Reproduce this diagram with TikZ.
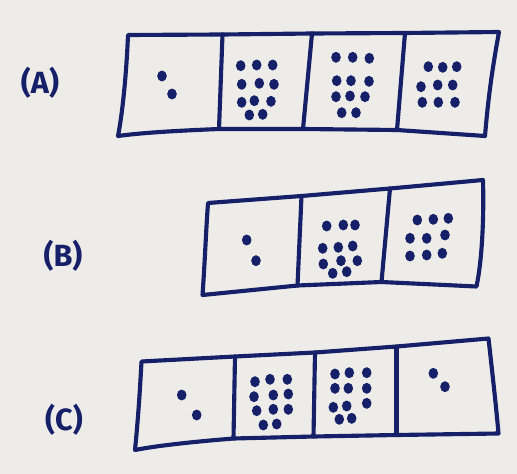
\documentclass[tikz,border=0pt]{standalone}
\usepackage{fontspec}
\setmainfont{Fira Sans}
\definecolor{ink}{RGB}{22,32,105}
\definecolor{paper}{RGB}{237,236,232}
\tikzset{
  outline/.style={draw=ink, line width=3.1pt, line join=round, line cap=round},
  dot/.style={fill=ink},
  lbl/.style={text=ink, font=\fontsize{23}{23}\selectfont\bfseries, inner sep=0pt}
}
\newcommand{\dotsat}[1]{\foreach \p in {#1} \fill[dot] \p ellipse[x radius=3.6pt, y radius=4.1pt];}
\begin{document}
\begin{tikzpicture}[x=0.75pt,y=-0.75pt]
\fill[paper] (0,0) rectangle (517,474);
\useasboundingbox (0,0) rectangle (517,474);

% ---------- Row A ----------
\node[lbl] (labA) at (40,83) {(A)};
\coordinate (A0t) at (128,35);
\coordinate (A1t) at (222.5,34.5);
\coordinate (A2t) at (312,33.5);
\coordinate (A3t) at (405,33);
\coordinate (A4t) at (499,32);
\coordinate (A0b) at (118,136);
\coordinate (A1b) at (219,129);
\coordinate (A2b) at (303,129);
\coordinate (A3b) at (397,130);
\coordinate (A4b) at (485,136);
\draw[outline] (A0t) -- (A1t) -- (A2t) -- (A3t) -- (A4t)
  .. controls (492,70) and (488,100) .. (A4b)
  -- (A3b) -- (A2b) -- (A1b)
  .. controls (170,131) and (140,133) .. (A0b)
  .. controls (124,105) and (127,60) .. cycle;
\draw[outline] (A1t) -- (A1b);
\draw[outline] (A2t) -- (A2b);
\draw[outline] (A3t) -- (A3b);
\dotsat{(162,76),(172,94)}
\dotsat{(240.7,65.7),(256.7,65),(272.7,65),
        (241.7,84.3),(259.3,83.3),(274,84.3),
        (241.7,102.3),(254.3,100.7),(271,101.3),
        (249.3,115),(262.7,114.3)}
\dotsat{(336,57.3),(352.7,57.3),(369.3,58.3),
        (336.7,80.7),(351,80.7),(369,81.3),
        (336,96.7),(350,96),(365,96.7),
        (341.7,112.7),(356,112.7)}
\dotsat{(428.3,66.7),(442.7,67.3),(456.7,66.7),
        (421,86.7),(437.7,85),(452.7,85),
        (422.3,102.3),(438.3,102.3),(455,102.3)}

% ---------- Row B ----------
\node[lbl] (labB) at (63,256) {(B)};
\coordinate (B0t) at (208,203);
\coordinate (B1t) at (301.5,196);
\coordinate (B2t) at (390,188.5);
\coordinate (B3t) at (483,180);
\coordinate (B0b) at (202.5,295);
\coordinate (B1b) at (297.5,285.5);
\coordinate (B2b) at (381.5,282);
\coordinate (B3b) at (476.5,286.5);
\draw[outline] (B0t) -- (B1t) -- (B2t) -- (B3t)
  .. controls (484,220) and (482,260) .. (B3b)
  -- (B2b) -- (B1b) -- (B0b)
  .. controls (205,260) and (206,230) .. cycle;
\draw[outline] (B1t) -- (B1b);
\draw[outline] (B2t) -- (B2b);
\dotsat{(246.7,240),(256,260.7)}
\dotsat{(326.7,226),(343.3,225),(355,225),
        (322.7,248.3),(338.3,247.3),(352.7,246),
        (323.3,264),(341,260.7),(357.3,260.7),
        (332.7,273.3),(346.7,271.7)}
\dotsat{(417.3,220),(433.3,219.3),(448.3,218.3),
        (410,238.3),(426.7,238.3),(445,235),
        (410,256),(426.7,255),(442.3,253.3)}

% ---------- Row C ----------
\node[lbl] (labC) at (64,420) {(C)};
\coordinate (C0t) at (141.5,361.5);
\coordinate (C1t) at (235,356.5);
\coordinate (C2t) at (315,352.5);
\coordinate (C3t) at (396.5,346.5);
\coordinate (C4t) at (488.5,338.5);
\coordinate (C0b) at (135,450);
\coordinate (C1b) at (233.5,438.5);
\coordinate (C2b) at (313.5,436.5);
\coordinate (C3b) at (396.5,435);
\coordinate (C4b) at (498.5,433.5);
\draw[outline] (C0t) -- (C1t) -- (C2t) -- (C3t) -- (C4t)
  .. controls (492,370) and (496,405) .. (C4b)
  -- (C3b) -- (C2b) -- (C1b)
  .. controls (190,442) and (155,446) .. (C0b)
  .. controls (138,420) and (140,390) .. cycle;
\draw[outline] (C1t) -- (C1b);
\draw[outline] (C2t) -- (C2b);
\draw[outline] (C3t) -- (C3b);
\dotsat{(181.7,395),(196.7,415)}
\dotsat{(255,381.7),(270,379.3),(287.3,379.3),
        (254,396.7),(273.3,395),(288.3,394),
        (256.7,410.7),(273.3,409.3),(288.3,409.3),
        (263.3,425),(276.7,424)}
\dotsat{(335,374),(349.3,372.7),(366.7,372.7),
        (335,388.3),(348.3,388.3),(366.7,388.3),
        (333.3,407.3),(346.7,406),(366.7,403.3),
        (339.3,419.3),(351.7,418.3)}
\dotsat{(433.3,373.3),(445,386.7)}
\end{tikzpicture}
\end{document}
